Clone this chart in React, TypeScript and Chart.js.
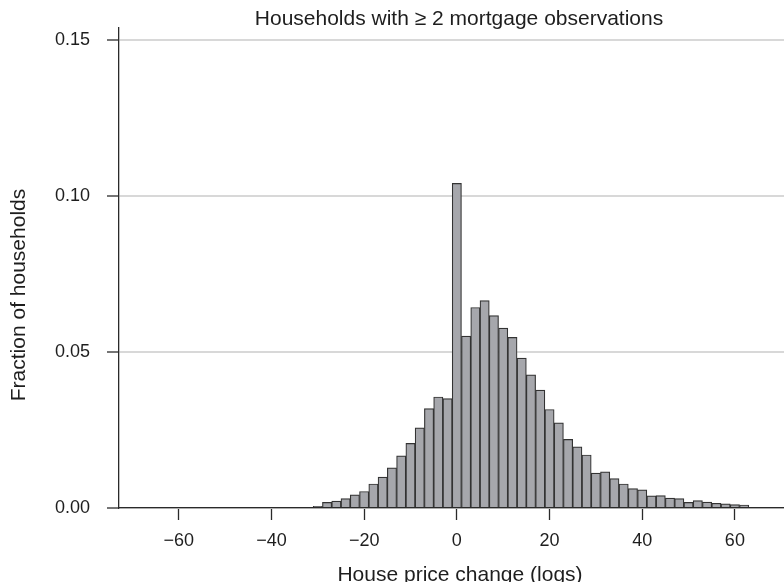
import React, { useEffect, useRef } from "react";
import { Chart, registerables } from "chart.js";

Chart.register(...registerables);

// Histogram bins (bin centers, width 2 log points) and fractions
const binCenters = [
  -30, -28, -26, -24, -22, -20, -18, -16, -14, -12, -10, -8, -6, -4, -2,
  0, 2, 4, 6, 8, 10, 12, 14, 16, 18, 20, 22, 24, 26, 28, 30, 32, 34, 36,
  38, 40, 42, 44, 46, 48, 50, 52, 54, 56, 58, 60, 62,
];
const fractions = [
  0.0005, 0.0018, 0.0022, 0.003, 0.0042, 0.0053, 0.0077, 0.0099, 0.0129,
  0.0167, 0.0207, 0.0257, 0.0319, 0.0356, 0.0351,
  0.1041, 0.0551, 0.0643, 0.0665, 0.0617, 0.0577, 0.0547, 0.0481, 0.0427,
  0.0378, 0.0316, 0.0273, 0.022, 0.0196, 0.017, 0.0112, 0.0116, 0.0094,
  0.0077, 0.0062, 0.0058, 0.0039, 0.004, 0.0032, 0.003, 0.0018, 0.0024,
  0.0019, 0.0015, 0.0013, 0.0011, 0.0009,
];
const xTickValues = [-60, -40, -20, 0, 20, 40, 60];
const yTickValues = [0, 0.05, 0.1, 0.15];

const titleText = "Households with \u2265 2 mortgage observations";
const xTitleText = "House price change (logs)";
const yTitleText = "Fraction of households";

const FONT = "'Liberation Sans', Arial, Helvetica, sans-serif";
const TEXT = "#1e1e1e";
const AXIS = "#2a2a2a";

const titlesPlugin = {
  id: "customTitles",
  afterDraw(chart: any) {
    const ctx = chart.ctx;
    ctx.save();
    ctx.fillStyle = TEXT;
    ctx.font = `21px ${FONT}`;
    ctx.textAlign = "center";
    ctx.textBaseline = "alphabetic";
    ctx.fillText(titleText, 459, 25);
    ctx.fillText(xTitleText, 460, 581);
    ctx.translate(25, 295);
    ctx.rotate(-Math.PI / 2);
    ctx.fillText(yTitleText, 0, 0);
    ctx.restore();
  },
};

export default function App() {
  const ref = useRef<HTMLCanvasElement | null>(null);

  useEffect(() => {
    document.body.style.margin = "0";
    const canvas = ref.current;
    if (!canvas) return;
    const chart = new Chart(canvas, {
      type: "bar",
      data: {
        datasets: [
          {
            data: binCenters.map((x, i) => ({ x, y: fractions[i] })),
            backgroundColor: "#a6a7ac",
            borderColor: "#333333",
            borderWidth: 1.2,
            barPercentage: 1,
            categoryPercentage: 1,
          },
        ],
      },
      options: {
        responsive: false,
        animation: false,
        devicePixelRatio: 1,
        layout: { padding: { top: 25, left: 0, right: 0, bottom: 0 } },
        plugins: {
          legend: { display: false },
          title: { display: false },
          tooltip: { enabled: false },
        },
        scales: {
          x: {
            type: "linear",
            offset: false,
            min: -72.9,
            max: 70.6,
            afterBuildTicks: (scale: any) => {
              scale.ticks = xTickValues.map((v) => ({ value: v }));
            },
            afterFit: (scale: any) => {
              scale.height = 74;
            },
            grid: {
              offset: false,
              drawOnChartArea: false,
              drawTicks: true,
              tickLength: 12,
              tickColor: AXIS,
              tickWidth: 1.3,
            },
            border: { display: true, color: AXIS, width: 1.3 },
            ticks: {
              padding: 10,
              color: TEXT,
              font: { family: FONT, size: 18 },
              maxRotation: 0,
              autoSkip: false,
              callback: (v: any) =>
                Number(v) < 0 ? "\u2212" + Math.abs(Number(v)) : String(v),
            },
          },
          y: {
            type: "linear",
            min: 0,
            max: 0.154,
            afterBuildTicks: (scale: any) => {
              scale.ticks = yTickValues.map((v) => ({ value: v }));
            },
            afterFit: (scale: any) => {
              scale.width = 119;
            },
            grid: {
              drawOnChartArea: true,
              drawTicks: true,
              tickLength: 12,
              tickColor: AXIS,
              tickWidth: 1.3,
              color: "#d8d8d8",
              lineWidth: 2,
            },
            border: { display: true, color: AXIS, width: 1.3 },
            ticks: {
              padding: 17,
              color: TEXT,
              font: { family: FONT, size: 18 },
              autoSkip: false,
              callback: (v: any) => Number(v).toFixed(2),
            },
          },
        },
      },
      plugins: [titlesPlugin],
    });
    return () => chart.destroy();
  }, []);

  return (
    <div style={{ width: 784, height: 582 }}>
      <canvas
        ref={ref}
        width={784}
        height={582}
        style={{ display: "block", width: 784, height: 582 }}
      />
    </div>
  );
}
